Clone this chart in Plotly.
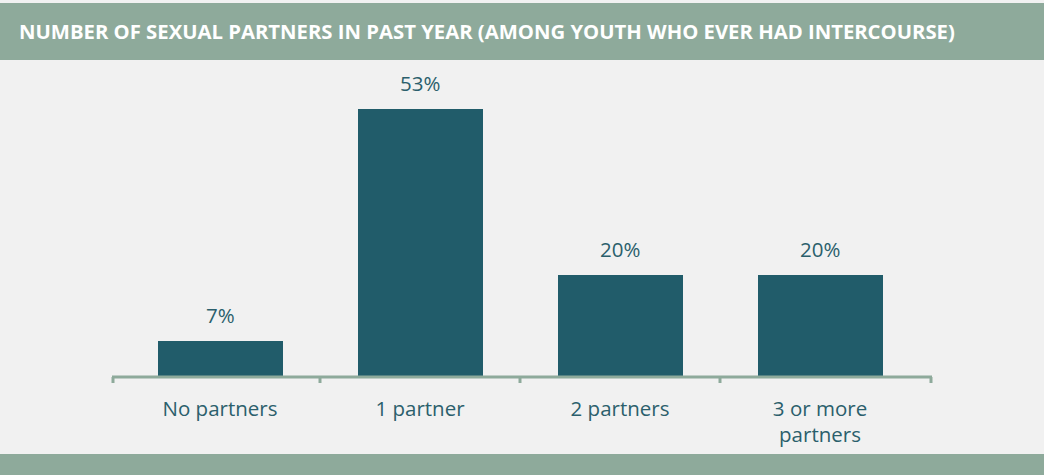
import plotly.graph_objects as go

categories = ["No partners", "1 partner", "2 partners", "3 or more partners"]
tick_labels = ["No partners", "1 partner", "2 partners", "3 or more<br>partners"]
values = [7, 53, 20, 20]
value_labels = ["7%", "53%", "20%", "20%"]

title_text = "NUMBER OF SEXUAL PARTNERS IN PAST YEAR (AMONG YOUTH WHO EVER HAD INTERCOURSE)"

BAR = "#215c6a"
SAGE = "#8eaa9b"
BG = "#f1f1f1"
TXT = "#2b5f6c"
FONT = "Open Sans"

W, H = 1044, 475
L, R, T, B = 112, 112, 74, 99
plot_h = H - T - B

def py(px):
    return (H - B - px) / plot_h

def px_x(px):
    return (px - L) / (W - L - R)

fig = go.Figure()
fig.add_trace(go.Bar(
    x=list(range(len(categories))), y=values, width=0.625,
    marker=dict(color=BAR, line=dict(width=0)),
    hoverinfo="skip",
))

for i, (v, lab) in enumerate(zip(values, value_labels)):
    fig.add_annotation(x=i, y=v, text=lab, showarrow=False, yanchor="bottom",
                       yshift=10, font=dict(family=FONT, size=20.5, color=TXT))

shapes = []
# title bar
shapes.append(dict(type="rect", xref="paper", yref="paper", x0=-0.3, x1=1.3,
                   y0=py(60), y1=py(3), fillcolor=SAGE, line=dict(width=0), layer="below"))
# bottom bar
shapes.append(dict(type="rect", xref="paper", yref="paper", x0=-0.3, x1=1.3,
                   y0=py(480), y1=py(454), fillcolor=SAGE, line=dict(width=0), layer="below"))
# axis line
shapes.append(dict(type="line", xref="paper", yref="paper", x0=0, x1=1, y0=py(377), y1=py(377),
                   line=dict(color=SAGE, width=3)))
# ticks
tick_x_paper = [px_x(113), px_x(931)]
for xp in tick_x_paper:
    shapes.append(dict(type="line", xref="paper", yref="paper", x0=xp, x1=xp,
                       y0=py(377), y1=py(383), line=dict(color=SAGE, width=3)))
for xb in [0.5, 1.5, 2.5]:
    shapes.append(dict(type="line", xref="x", yref="paper", x0=xb, x1=xb,
                       y0=py(377), y1=py(383), line=dict(color=SAGE, width=3)))

fig.add_annotation(xref="paper", yref="paper", x=px_x(17), y=py(31), xanchor="left",
                   yanchor="middle", showarrow=False, text="<b>" + title_text + "</b>",
                   font=dict(family=FONT, size=20.3, color="white"))

fig.update_layout(
    width=W, height=H,
    margin=dict(l=L, r=R, t=T, b=B, pad=0),
    paper_bgcolor=BG, plot_bgcolor=BG,
    showlegend=False,
    shapes=shapes,
    bargap=0,
    xaxis=dict(range=[-0.54, 3.56], tickmode="array", tickvals=list(range(len(categories))),
               ticktext=tick_labels, showgrid=False, zeroline=False, showline=False,
               ticks="", tickfont=dict(family=FONT, size=20.5, color=TXT),
               ticklabelstandoff=18, fixedrange=True),
    yaxis=dict(range=[0, 60], visible=False, fixedrange=True),
)

fig.write_html("out.html", config={"displayModeBar": False},
               post_script="document.body.style.margin='0';document.body.style.background='" + BG + "';")
